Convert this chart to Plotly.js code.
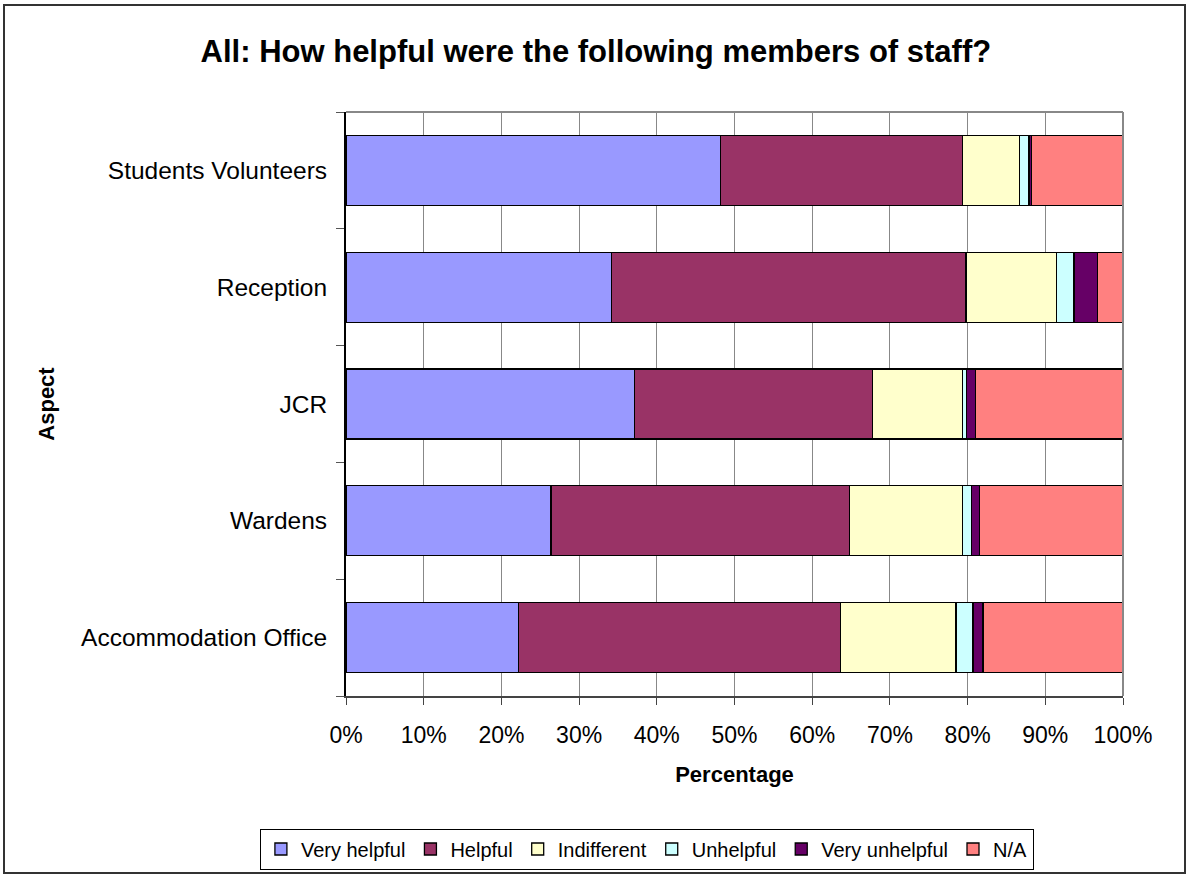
<!DOCTYPE html>
<html>
<head>
<meta charset="utf-8">
<script src="https://cdn.plot.ly/plotly-3.0.1.min.js"></script>
<style>
  html, body { margin: 0; padding: 0; background: #fff; }
  #wrap { position: relative; width: 1187px; height: 875px; }
  #chart { position: absolute; left: 0; top: 0; width: 1187px; height: 875px; }
  #frame { position: absolute; left: 3px; top: 4px; width: 1179px; height: 866px; border: 2px solid #333; pointer-events: none; }
</style>
</head>
<body>
<div id="wrap">
  <div id="chart"></div>
  <div id="frame"></div>
</div>
<script>
const categories = ['Accommodation Office', 'Wardens', 'JCR', 'Reception', 'Students Volunteers'];
const seriesNames = ['Very helpful', 'Helpful', 'Indifferent', 'Unhelpful', 'Very unhelpful', 'N/A'];
const veryHelpful   = [22.2, 26.4, 37.1, 34.2, 48.2];
const helpful       = [41.4, 38.4, 30.7, 45.6, 31.1];
const indifferent   = [14.9, 14.5, 11.5, 11.6, 7.4];
const unhelpful     = [2.2, 1.2, 0.6, 2.3, 1.2];
const veryUnhelpful = [1.3, 1.0, 1.1, 3.0, 0.3];
const notApplicable = [18.0, 18.5, 19.0, 3.3, 11.8];
const colors = ['#9999FF', '#993366', '#FFFFCC', '#CCFFFF', '#660066', '#FF8080'];
const xTickVals = [0, 10, 20, 30, 40, 50, 60, 70, 80, 90, 100];
const xTickText = ['0%', '10%', '20%', '30%', '40%', '50%', '60%', '70%', '80%', '90%', '100%'];

const seriesValues = [veryHelpful, helpful, indifferent, unhelpful, veryUnhelpful, notApplicable];
const traces = seriesValues.map((vals, i) => ({
  type: 'bar',
  orientation: 'h',
  name: seriesNames[i],
  y: categories,
  x: vals,
  marker: { color: colors[i], line: { color: '#000', width: 1.3 } },
  hoverinfo: 'name+x'
}));

const font = 'Liberation Sans, Arial, sans-serif';
const layout = {
  width: 1187,
  height: 875,
  barmode: 'stack',
  bargap: 0.4,
  paper_bgcolor: '#fff',
  plot_bgcolor: '#fff',
  margin: { l: 346, r: 64, t: 112, b: 179 },
  font: { family: font, size: 22, color: '#000' },
  title: {
    text: '<b>All: How helpful were the following members of staff?</b>',
    font: { family: font, size: 31, color: '#000' },
    x: 0.502, xref: 'container', xanchor: 'center',
    y: 1 - 51 / 875, yref: 'container', yanchor: 'middle'
  },
  xaxis: {
    range: [0, 100],
    tickvals: xTickVals,
    ticktext: xTickText,
    showgrid: true,
    gridcolor: '#888',
    gridwidth: 1,
    zeroline: false,
    showline: true,
    linecolor: '#444',
    linewidth: 2,
    mirror: false,
    ticks: 'outside',
    ticklen: 7,
    tickcolor: '#444',
    ticklabelstandoff: 10,
    tickfont: { family: font, size: 23, color: '#000' },
    title: { text: '<b>Percentage</b>', font: { family: font, size: 22, color: '#000' }, standoff: 20 },
    fixedrange: true
  },
  yaxis: {
    type: 'category',
    categoryorder: 'array',
    categoryarray: categories,
    showgrid: false,
    zeroline: false,
    showline: true,
    linecolor: '#000',
    linewidth: 2,
    ticks: 'outside',
    tickson: 'boundaries',
    ticklen: 8,
    tickcolor: '#555',
    ticklabelstandoff: 12,
    tickfont: { family: font, size: 24.5, color: '#000' },
    title: { text: '<b>Aspect</b>', font: { family: font, size: 22, color: '#000' }, standoff: 20 },
    fixedrange: true
  },
  shapes: [
    { type: 'line', xref: 'paper', yref: 'paper', x0: 0, x1: 1, y0: 1, y1: 1, line: { color: '#888', width: 2 } },
    { type: 'line', xref: 'paper', yref: 'paper', x0: 1, x1: 1, y0: 0, y1: 1, line: { color: '#888', width: 2 } }
  ],
  showlegend: true,
  legend: {
    orientation: 'h',
    xref: 'container', yref: 'container',
    x: 0.545, xanchor: 'center',
    y: 1 - 849 / 875, yanchor: 'middle',
    bordercolor: '#000', borderwidth: 1,
    bgcolor: '#fff',
    font: { family: font, size: 20, color: '#000' },
    itemwidth: 30,
    tracegroupgap: 0,
    traceorder: 'normal'
  }
};

Plotly.newPlot('chart', traces, layout, { displayModeBar: false, staticPlot: true });
</script>
</body>
</html>
